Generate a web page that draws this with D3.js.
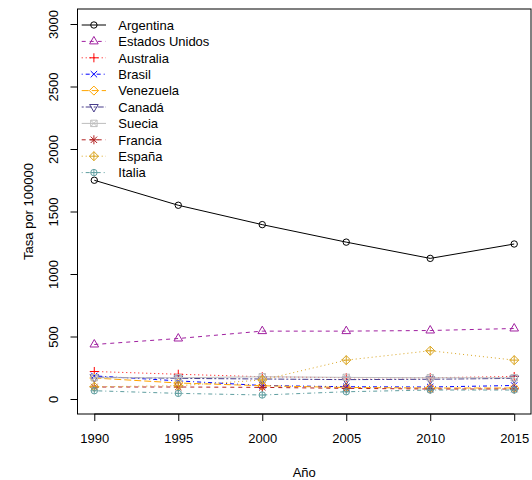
<!DOCTYPE html>
<html>
<head>
<meta charset="utf-8">
<script src="https://cdn.jsdelivr.net/npm/d3@7"></script>
<style>
  body { margin: 0; background: #fff; }
  text { font-family: "Liberation Sans", Arial, sans-serif; }
</style>
</head>
<body>
<div id="chart"></div>
<script>
var years = [1990, 1995, 2000, 2005, 2010, 2015];
var yTicks = [0, 500, 1000, 1500, 2000, 2500, 3000];

var argentina = [1750, 1550, 1395, 1255, 1125, 1240];
var estadosUnidos = [436, 484, 543, 543, 548, 564];
var australia = [220, 198, 178, 170, 170, 180];
var brasil = [185, 145, 108, 98, 96, 108];
var venezuela = [168, 128, 106, 92, 88, 88];
var canada = [175, 165, 160, 155, 158, 165];
var suecia = [170, 170, 178, 173, 170, 170];
var francia = [96, 96, 93, 85, 80, 80];
var espana = [98, 106, 152, 311, 386, 311];
var italia = [66, 45, 32, 58, 72, 72];

var countries = ["Argentina", "Estados Unidos", "Australia", "Brasil", "Venezuela",
  "Canadá", "Suecia", "Francia", "España", "Italia"];
var values = [argentina, estadosUnidos, australia, brasil, venezuela,
  canada, suecia, francia, espana, italia];

var colors = ["#000000", "#A020A0", "#FF0000", "#0000FF", "#FFA500",
  "#483D8B", "#BEBEBE", "#B22222", "#DAA520", "#5F9EA0"];
// R lty 1..6, then cycling again
var dashes = [null, "4,4", "1,3", "1,3,4,3", "7,3", "2,2,6,2", null, "4,4", "1,3", "1,3,4,3"];

var width = 532, height = 480;
var plot = { left: 77.5, right: 531, top: 9, bottom: 414 };

var svg = d3.select("#chart").append("svg")
  .attr("width", width)
  .attr("height", height);

// R-like 4% axis extension
var x = d3.scaleLinear().domain([1989, 2016]).range([plot.left, plot.right]);
var y = d3.scaleLinear().domain([-120, 3120]).range([plot.bottom, plot.top]);

// point symbols, R pch 1..10
var xc = 3.2;
function symbol(i, cx, cy) {
  var p = d3.path();
  var s2 = Math.SQRT2 * xc;
  var r = 1.555 * xc, yc = r / 2, hw = r * Math.sqrt(3) / 2;
  switch (i) {
    case 0:
      p.moveTo(cx + xc, cy); p.arc(cx, cy, xc, 0, 2 * Math.PI); break;
    case 1:
      p.moveTo(cx, cy - r); p.lineTo(cx + hw, cy + yc); p.lineTo(cx - hw, cy + yc); p.closePath(); break;
    case 2:
      p.moveTo(cx - s2, cy); p.lineTo(cx + s2, cy); p.moveTo(cx, cy - s2); p.lineTo(cx, cy + s2); break;
    case 3:
      p.moveTo(cx - xc, cy - xc); p.lineTo(cx + xc, cy + xc); p.moveTo(cx - xc, cy + xc); p.lineTo(cx + xc, cy - xc); break;
    case 4:
      p.moveTo(cx, cy - s2); p.lineTo(cx + s2, cy); p.lineTo(cx, cy + s2); p.lineTo(cx - s2, cy); p.closePath(); break;
    case 5:
      p.moveTo(cx, cy + r); p.lineTo(cx + hw, cy - yc); p.lineTo(cx - hw, cy - yc); p.closePath(); break;
    case 6:
      p.rect(cx - xc, cy - xc, 2 * xc, 2 * xc);
      p.moveTo(cx - xc, cy - xc); p.lineTo(cx + xc, cy + xc); p.moveTo(cx - xc, cy + xc); p.lineTo(cx + xc, cy - xc); break;
    case 7:
      p.moveTo(cx - xc, cy - xc); p.lineTo(cx + xc, cy + xc); p.moveTo(cx - xc, cy + xc); p.lineTo(cx + xc, cy - xc);
      p.moveTo(cx - s2, cy); p.lineTo(cx + s2, cy); p.moveTo(cx, cy - s2); p.lineTo(cx, cy + s2); break;
    case 8:
      p.moveTo(cx, cy - s2); p.lineTo(cx + s2, cy); p.lineTo(cx, cy + s2); p.lineTo(cx - s2, cy); p.closePath();
      p.moveTo(cx - s2, cy); p.lineTo(cx + s2, cy); p.moveTo(cx, cy - s2); p.lineTo(cx, cy + s2); break;
    case 9:
      p.moveTo(cx + xc, cy); p.arc(cx, cy, xc, 0, 2 * Math.PI);
      p.moveTo(cx - xc, cy); p.lineTo(cx + xc, cy); p.moveTo(cx, cy - xc); p.lineTo(cx, cy + xc); break;
  }
  return p.toString();
}

var line = d3.line()
  .x(function (d, i) { return x(years[i]); })
  .y(function (d) { return y(d); });

// series
values.forEach(function (vals, i) {
  var g = svg.append("g").attr("class", "series");
  g.append("path")
    .attr("d", line(vals))
    .attr("fill", "none")
    .attr("stroke", colors[i])
    .attr("stroke-width", 1)
    .attr("stroke-dasharray", dashes[i]);
  g.selectAll("path.pt")
    .data(vals)
    .enter()
    .append("path")
    .attr("class", "pt")
    .attr("d", function (d, j) { return symbol(i, x(years[j]), y(d)); })
    .attr("fill", "none")
    .attr("stroke", colors[i])
    .attr("stroke-width", 1);
});

// box
svg.append("rect")
  .attr("x", plot.left)
  .attr("y", plot.top)
  .attr("width", plot.right - plot.left)
  .attr("height", plot.bottom - plot.top)
  .attr("fill", "none")
  .attr("stroke", "#000")
  .attr("stroke-width", 1);

// x axis
var xAxis = svg.append("g")
  .attr("transform", "translate(0," + plot.bottom + ")")
  .call(d3.axisBottom(x).tickValues(years).tickFormat(d3.format("d")).tickSize(7).tickSizeOuter(0));
xAxis.select(".domain").remove();
xAxis.append("line")
  .attr("x1", x(years[0])).attr("x2", x(years[years.length - 1]))
  .attr("stroke", "#000");
xAxis.selectAll("line").attr("stroke", "#000");
xAxis.selectAll("text")
  .attr("y", 29)
  .attr("dy", null)
  .attr("fill", "#000")
  .style("font-size", "13px")
  .style("font-family", "Liberation Sans, Arial, sans-serif");

// y axis with rotated labels
var yAxis = svg.append("g")
  .attr("transform", "translate(" + plot.left + ",0)")
  .call(d3.axisLeft(y).tickValues(yTicks).tickFormat(d3.format("d")).tickSize(7).tickSizeOuter(0));
yAxis.select(".domain").remove();
yAxis.append("line")
  .attr("y1", y(yTicks[0])).attr("y2", y(yTicks[yTicks.length - 1]))
  .attr("stroke", "#000");
yAxis.selectAll("line").attr("stroke", "#000");
yAxis.selectAll("text")
  .attr("x", null)
  .attr("dy", null)
  .attr("transform", "translate(-19.5,0) rotate(-90)")
  .attr("text-anchor", "middle")
  .attr("fill", "#000")
  .style("font-size", "13px")
  .style("font-family", "Liberation Sans, Arial, sans-serif");

// axis titles
svg.append("text")
  .attr("x", (plot.left + plot.right) / 2)
  .attr("y", 476.5)
  .attr("text-anchor", "middle")
  .style("font-size", "13px")
  .text("Año");

svg.append("text")
  .attr("transform", "translate(32.5," + (plot.top + plot.bottom) / 2 + ") rotate(-90)")
  .attr("text-anchor", "middle")
  .style("font-size", "13px")
  .text("Tasa por 100000");

// legend
var legendTop = 25, legendStep = 16.4;
var legend = svg.selectAll(".legend")
  .data(countries)
  .enter()
  .append("g")
  .attr("class", "legend")
  .attr("transform", function (d, i) { return "translate(0," + (legendTop + i * legendStep) + ")"; });

legend.append("line")
  .attr("x1", 81.7).attr("x2", 106)
  .attr("stroke", function (d, i) { return colors[i]; })
  .attr("stroke-dasharray", function (d, i) { return dashes[i]; });

legend.append("path")
  .attr("d", function (d, i) { return symbol(i, 93.9, 0); })
  .attr("fill", "none")
  .attr("stroke", function (d, i) { return colors[i]; });

legend.append("text")
  .attr("x", 118.3)
  .attr("y", 4.7)
  .style("font-size", "13px")
  .text(function (d) { return d; });
</script>
</body>
</html>
